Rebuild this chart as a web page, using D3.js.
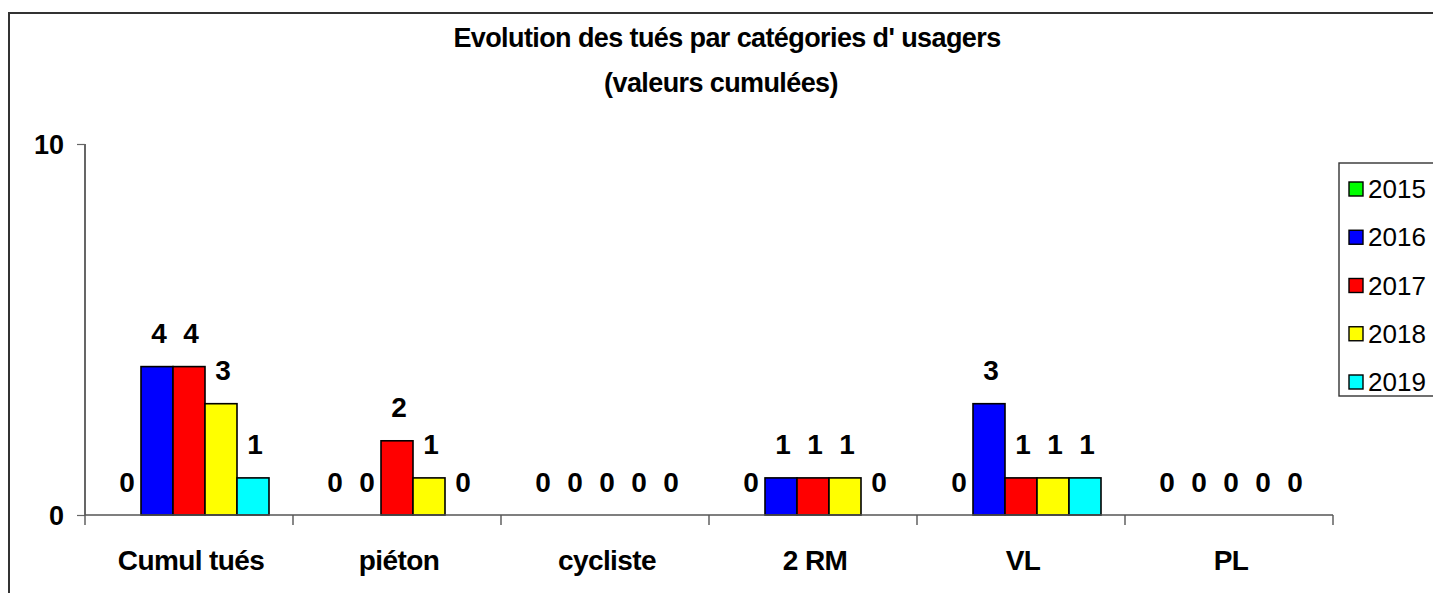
<!DOCTYPE html>
<html>
<head>
<meta charset="utf-8">
<script src="https://cdn.jsdelivr.net/npm/d3@7"></script>
<style>
  html, body { margin: 0; padding: 0; background: #fff; }
  svg { display: block; font-family: "Liberation Sans", Arial, sans-serif; }
</style>
</head>
<body>
<svg id="chart" width="1433" height="593"></svg>
<script>
const titleLines = ["Evolution des tués par catégories d' usagers", "(valeurs cumulées)"];
const categories = ["Cumul tués", "piéton", "cycliste", "2 RM", "VL", "PL"];
const years = ["2015", "2016", "2017", "2018", "2019"];
const values2015 = [0, 0, 0, 0, 0, 0];
const values2016 = [4, 0, 0, 1, 3, 0];
const values2017 = [4, 2, 0, 1, 1, 0];
const values2018 = [3, 1, 0, 1, 1, 0];
const values2019 = [1, 0, 0, 0, 1, 0];
const yTicks = [0, 10];
const colors = ["#00ff00", "#0000ff", "#ff0000", "#ffff00", "#00ffff"];

const seriesValues = [values2015, values2016, values2017, values2018, values2019];
const data = categories.map((c, i) => ({
  cat: c,
  vals: years.map((y, j) => ({ year: y, value: seriesValues[j][i], idx: j }))
}));

const svg = d3.select("#chart");

// outer frame (cropped on right/bottom)
svg.append("rect")
  .attr("x", 9).attr("y", 13).attr("width", 1440).attr("height", 600)
  .attr("fill", "none").attr("stroke", "#333").attr("stroke-width", 2);

// title
svg.append("text").attr("x", 727).attr("y", 47).attr("text-anchor", "middle")
  .attr("font-size", 27).attr("font-weight", "bold").attr("letter-spacing", -0.6)
  .text(titleLines[0]);
svg.append("text").attr("x", 721).attr("y", 92).attr("text-anchor", "middle")
  .attr("font-size", 27).attr("font-weight", "bold").attr("letter-spacing", -0.6)
  .text(titleLines[1]);

const x0 = d3.scaleBand().domain(categories).range([85, 1333]).paddingInner(0).paddingOuter(0);
const x1 = d3.scaleBand().domain(years).range([24, x0.bandwidth() - 24]).padding(0);
const y = d3.scaleLinear().domain([0, 10]).range([515, 144]);

// y axis
const yAxis = svg.append("g").attr("transform", "translate(85,0)")
  .call(d3.axisLeft(y).tickValues(yTicks).tickSize(8).tickFormat(d3.format("d")));
yAxis.select(".domain").attr("stroke", "#000").attr("stroke-width", 1.2).attr("d", "M0,144V515");
yAxis.selectAll(".tick line").attr("stroke", "#666").attr("stroke-width", 1.2);
yAxis.selectAll(".tick text").attr("font-size", 27).attr("font-weight", "bold")
  .attr("fill", "#000").attr("x", -21).attr("dy", "0.36em")
  .attr("font-family", "'Liberation Sans', Arial, sans-serif");

// groups and bars
const groups = svg.append("g").selectAll("g").data(data).join("g")
  .attr("transform", d => `translate(${x0(d.cat)},0)`);

groups.selectAll("rect").data(d => d.vals.filter(v => v.value > 0)).join("rect")
  .attr("x", d => x1(d.year))
  .attr("y", d => y(d.value))
  .attr("width", x1.bandwidth())
  .attr("height", d => y(0) - y(d.value))
  .attr("fill", d => colors[d.idx])
  .attr("stroke", "#000").attr("stroke-width", 1.6);

groups.selectAll("text").data(d => d.vals).join("text")
  .attr("x", d => x1(d.year) + x1.bandwidth() / 2 + 2)
  .attr("y", d => y(d.value) - 23.5)
  .attr("text-anchor", "middle")
  .attr("font-size", 28).attr("font-weight", "bold")
  .text(d => d.value);

// x axis
const xAxisLine = svg.append("g");
xAxisLine.append("line").attr("x1", 85).attr("x2", 1333).attr("y1", 515).attr("y2", 515)
  .attr("stroke", "#555").attr("stroke-width", 1.4);
const boundaries = categories.map(c => x0(c)).concat([x0(categories[categories.length - 1]) + x0.bandwidth()]);
xAxisLine.selectAll("line.tick").data(boundaries).join("line").attr("class", "tick")
  .attr("x1", d => d).attr("x2", d => d).attr("y1", 515).attr("y2", 525)
  .attr("stroke", "#555").attr("stroke-width", 1.4);
xAxisLine.selectAll("text").data(categories).join("text")
  .attr("x", d => x0(d) + x0.bandwidth() / 2 + 2)
  .attr("y", 570)
  .attr("text-anchor", "middle")
  .attr("font-size", 28).attr("font-weight", "bold").attr("letter-spacing", -0.6)
  .text(d => d);

// legend
const legend = svg.append("g");
legend.append("rect").attr("x", 1339).attr("y", 163).attr("width", 120).attr("height", 233)
  .attr("fill", "#fff").attr("stroke", "#333").attr("stroke-width", 1.4);
const ly = d3.scalePoint().domain(years).range([189, 382]);
const items = legend.selectAll("g.item").data(years).join("g").attr("class", "item")
  .attr("transform", d => `translate(0,${ly(d)})`);
items.append("rect").attr("x", 1349).attr("y", -7).attr("width", 14).attr("height", 14)
  .attr("fill", (d, i) => colors[i]).attr("stroke", "#000").attr("stroke-width", 1.4);
items.append("text").attr("x", 1368).attr("y", 9).attr("font-size", 26)
  .text(d => d);
</script>
</body>
</html>
